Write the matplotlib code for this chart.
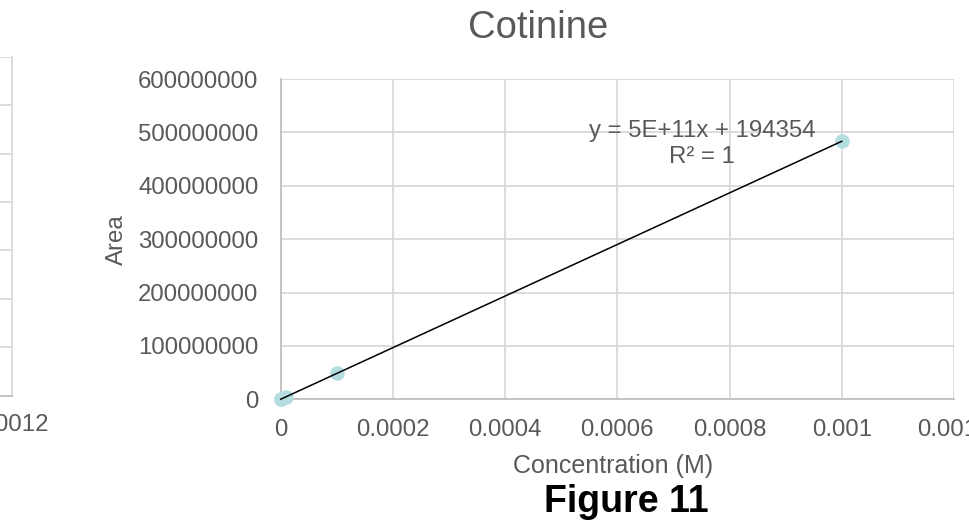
import numpy as np
import matplotlib
matplotlib.use("Agg")
import matplotlib.pyplot as plt

# ---- data ----
conc = [1e-7, 1e-6, 1e-5, 1e-4, 1e-3]
area = [5.0e4, 5.0e5, 4.9e6, 4.88e7, 4.833e8]
x_ticks = [0, 0.0002, 0.0004, 0.0006, 0.0008, 0.001, 0.0012]
x_ticklabels = ["0", "0.0002", "0.0004", "0.0006", "0.0008", "0.001", "0.0012"]
y_ticks = [0, 1e8, 2e8, 3e8, 4e8, 5e8, 6e8]
y_ticklabels = ["0", "100000000", "200000000", "300000000", "400000000", "500000000", "600000000"]
title = "Cotinine"
xlabel = "Concentration (M)"
ylabel = "Area"
eq_line1 = "y = 5E+11x + 194354"
eq_line2 = "R² = 1"
caption = "Figure 11"
left_y_ticks = [0, 1, 2, 3, 4, 5, 6, 7]
left_x_tick = [0.0012]
left_x_ticklabel = ["0.0012"]

plt.rcParams['font.family'] = ['Liberation Sans', 'DejaVu Sans']

W, H = 969, 520
fig = plt.figure(figsize=(W / 100, H / 100), dpi=100)

TXT = "#595959"
GRID = "#d9d9d9"
SPINE = "#bfbfbf"
FS = 17.3

def fx(px):
    return px / W

def fy(py):
    return 1 - py / H

# ---- partial neighbour chart on the left ----
axl = fig.add_axes([fx(-600), fy(395.7), fx(612), fy(56.7) - fy(395.7)])
axl.set_xlim(0, 0.0012)
axl.set_ylim(0, 7)
axl.set_xticks(left_x_tick)
axl.set_xticklabels(left_x_ticklabel, fontsize=FS, color=TXT)
axl.set_yticks(left_y_ticks)
axl.set_yticklabels([])
axl.tick_params(length=0, pad=13)
axl.grid(axis='y', color=GRID, linewidth=1.3)
for s in axl.spines.values():
    s.set_visible(False)
axl.spines['right'].set_visible(True)
axl.spines['right'].set_color(GRID)
axl.spines['right'].set_linewidth(1.3)
axl.spines['bottom'].set_visible(True)
axl.spines['bottom'].set_color(SPINE)
axl.spines['bottom'].set_linewidth(1.3)

# ---- main chart ----
L, R, T, B = 280.7, 954.0, 79.0, 399.3
ax = fig.add_axes([fx(L), fy(B), fx(R - L), fy(T) - fy(B)])
ax.set_xlim(0, 0.0012)
ax.set_ylim(0, 6e8)
ax.set_xticks(x_ticks)
ax.set_xticklabels(x_ticklabels, fontsize=FS, color=TXT)
ax.set_yticks(y_ticks)
ax.set_yticklabels(y_ticklabels, fontsize=FS, color=TXT)
ax.tick_params(axis='x', length=0, pad=14)
ax.tick_params(axis='y', length=0, pad=16)
ax.grid(True, color=GRID, linewidth=1.3, zorder=0)
ax.set_axisbelow(True)
for s in ax.spines.values():
    s.set_visible(False)
for side in ('left', 'bottom'):
    ax.spines[side].set_visible(True)
    ax.spines[side].set_color(SPINE)
    ax.spines[side].set_linewidth(1.3)

x = np.array(conc)
y = np.array(area)
ax.plot(x, y, 'o', color='#b4dde0', markersize=10.5, markeredgewidth=0,
        zorder=3, clip_on=False)
slope, intercept = np.polyfit(x, y, 1)
xf = np.array([x.min(), x.max()])
ax.plot(xf, slope * xf + intercept, color='black', linewidth=1.1, zorder=4,
        clip_on=False)

fig.text(fx(702), fy(137), eq_line1, ha='center', va='baseline',
         fontsize=FS, color=TXT)
fig.text(fx(702), fy(163), eq_line2, ha='center', va='baseline',
         fontsize=FS, color=TXT)

fig.text(fx(538), fy(37.5), title, ha='center', va='baseline',
         fontsize=27.5, color=TXT)
fig.text(fx(613), fy(473.3), xlabel, ha='center', va='baseline',
         fontsize=18, color=TXT)
fig.text(fx(117), fy(240), ylabel, ha='center', va='center', rotation=90,
         fontsize=FS, color=TXT)
fig.text(fx(626), fy(511.5), caption, ha='center', va='baseline',
         fontsize=27, color='black', fontweight='bold')

fig.savefig("out.png", dpi=100)
